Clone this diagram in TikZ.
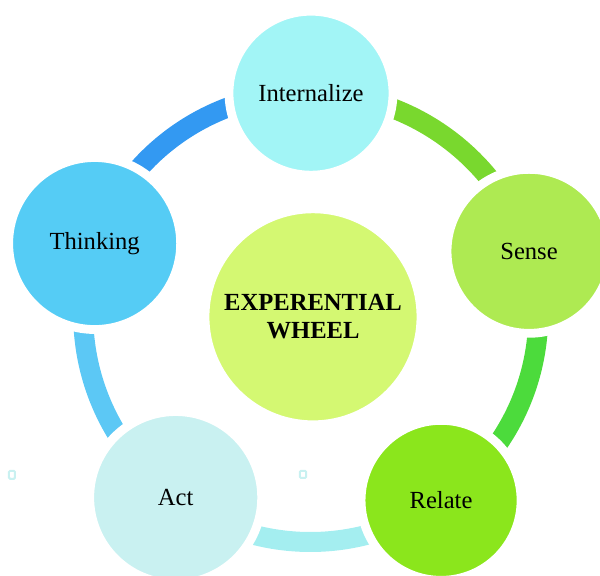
\documentclass[tikz,border=0pt]{standalone}
\usepackage{fontspec}
\setmainfont{Liberation Serif}
\usepackage{xcolor}
\usetikzlibrary{positioning,backgrounds}
\definecolor{hubgreen}{HTML}{D4F872}
\definecolor{intcyan}{HTML}{A2F5F6}
\definecolor{thinkblue}{HTML}{55CCF5}
\definecolor{sensegreen}{HTML}{AEEA52}
\definecolor{relategreen}{HTML}{8BE61C}
\definecolor{actcyan}{HTML}{C9F1F1}
\definecolor{arcblue}{HTML}{3399F2}
\definecolor{arcgreen}{HTML}{79D82E}
\definecolor{arcgrass}{HTML}{4CDB3C}
\definecolor{arccyan}{HTML}{A4EEF0}
\definecolor{arcsky}{HTML}{5CC8F5}

\begin{document}
\begin{tikzpicture}[every node/.style={circle,draw=white,line width=2.2mm,minimum size=4.1cm,font=\fontsize{17.5}{20}\selectfont,align=center},
    band/.style={line width=5mm,bend left=36,looseness=0.94},
    speck/.style={draw=actcyan,line width=0.5mm,rounded corners=0.3mm}]
    \useasboundingbox (-7.775,-6.45) rectangle (7.225,7.95);
    \node[fill=hubgreen,minimum size=5.4cm,font=\fontsize{17.5}{20}\selectfont\bfseries] (Wheel) at (0.05,0.03) {EXPERENTIAL\\WHEEL};
    \node[fill=intcyan] (Int) at (90:5.62) {Internalize};
    \node[fill=sensegreen] (Sense) at (17:5.7) {Sense};
    \node[fill=relategreen,minimum size=4cm] (Relate) at (-54.5:5.6) {Relate};
    \node[fill=actcyan,minimum size=4.3cm] (Act) at (-127:5.62) {Act};
    \node[fill=thinkblue,minimum size=4.3cm] (Think) at (161:5.72) {Thinking};
    \begin{scope}[on background layer]
      \draw[band,arcgreen] (Int.center) to (Sense.center);
      \draw[band,arcgrass] (Sense.center) to (Relate.center);
      \draw[band,arccyan] (Relate.center) to (Act.center);
      \draw[band,arcsky] (Act.center) to (Think.center);
      \draw[band,arcblue] (Think.center) to (Int.center);
    \end{scope}
    \draw[speck] (-7.55,-4.02) rectangle +(0.15,0.2);
    \draw[speck] (-0.28,-4.0) rectangle +(0.16,0.18);
\end{tikzpicture}
\end{document}
